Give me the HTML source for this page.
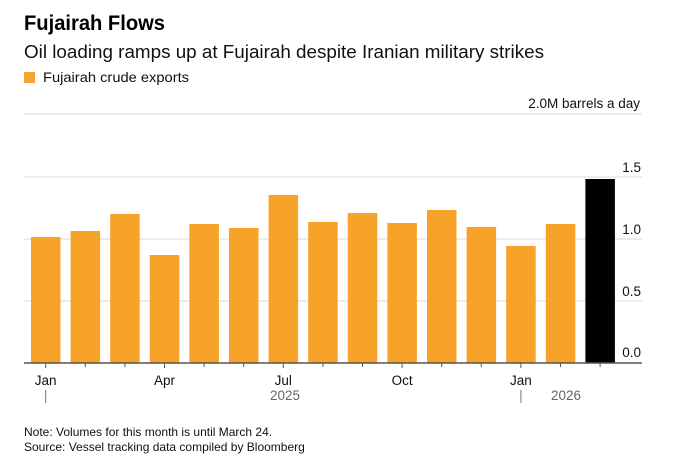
<!DOCTYPE html>
<html><head><meta charset="utf-8"><style>
html,body{margin:0;padding:0;background:#fff;}
svg{display:block;font-family:"Liberation Sans",Arial,sans-serif;}
</style></head><body>
<svg width="684" height="464" viewBox="0 0 684 464" xmlns="http://www.w3.org/2000/svg">
<rect width="684" height="464" fill="#fff"/>
<text x="24" y="30" font-size="21" font-weight="bold" fill="#000" textLength="141" lengthAdjust="spacingAndGlyphs">Fujairah Flows</text>
<text x="24" y="58" font-size="18" fill="#111" textLength="520" lengthAdjust="spacingAndGlyphs">Oil loading ramps up at Fujairah despite Iranian military strikes</text>
<rect x="24" y="72" width="11" height="11" rx="1" fill="#f7a229"/>
<text x="43" y="82" font-size="14" fill="#111" textLength="146" lengthAdjust="spacingAndGlyphs">Fujairah crude exports</text>
<text x="640" y="108" font-size="13.5" fill="#111" text-anchor="end">2.0M barrels a day</text>
<g stroke="#e6e6e6" stroke-width="1.5">
<line x1="24" y1="114" x2="642" y2="114"/>
<line x1="24" y1="177" x2="642" y2="177"/>
<line x1="24" y1="239" x2="642" y2="239"/>
<line x1="24" y1="301" x2="642" y2="301"/>
</g>
<g font-size="13.5" fill="#111" text-anchor="end">
<text x="641" y="172">1.5</text>
<text x="641" y="234">1.0</text>
<text x="641" y="296">0.5</text>
<text x="641" y="357">0.0</text>
</g>
<g fill="#f7a229">
<rect x="31" y="237" width="29.5" height="126"/>
<rect x="70.6" y="231" width="29.5" height="132"/>
<rect x="110.2" y="214" width="29.5" height="149"/>
<rect x="149.8" y="255" width="29.5" height="108"/>
<rect x="189.4" y="224" width="29.5" height="139"/>
<rect x="229" y="228" width="29.5" height="135"/>
<rect x="268.6" y="195" width="29.5" height="168"/>
<rect x="308.2" y="222" width="29.5" height="141"/>
<rect x="347.8" y="213" width="29.5" height="150"/>
<rect x="387.4" y="223" width="29.5" height="140"/>
<rect x="427" y="210" width="29.5" height="153"/>
<rect x="466.6" y="227" width="29.5" height="136"/>
<rect x="506.2" y="246" width="29.5" height="117"/>
<rect x="545.8" y="224" width="29.5" height="139"/>
</g>
<rect x="585.4" y="179" width="29.5" height="184" fill="#000"/>
<line x1="24" y1="363" x2="642" y2="363" stroke="#555" stroke-width="1.5"/>
<g stroke="#555" stroke-width="1">
<line x1="45.7" y1="363" x2="45.7" y2="368"/><line x1="85.3" y1="363" x2="85.3" y2="367"/><line x1="124.9" y1="363" x2="124.9" y2="367"/>
<line x1="164.5" y1="363" x2="164.5" y2="368"/><line x1="204.1" y1="363" x2="204.1" y2="367"/><line x1="243.7" y1="363" x2="243.7" y2="367"/>
<line x1="283.3" y1="363" x2="283.3" y2="368"/><line x1="322.9" y1="363" x2="322.9" y2="367"/><line x1="362.5" y1="363" x2="362.5" y2="367"/>
<line x1="402.1" y1="363" x2="402.1" y2="368"/><line x1="441.7" y1="363" x2="441.7" y2="367"/><line x1="481.3" y1="363" x2="481.3" y2="367"/>
<line x1="520.9" y1="363" x2="520.9" y2="368"/><line x1="560.5" y1="363" x2="560.5" y2="367"/><line x1="600.1" y1="363" x2="600.1" y2="367"/>
</g>
<g font-size="13.5" fill="#111" text-anchor="middle">
<text x="45.7" y="385">Jan</text><text x="164.5" y="385">Apr</text><text x="283.3" y="385">Jul</text><text x="402.1" y="385">Oct</text><text x="520.9" y="385">Jan</text>
</g>
<g font-size="13.5" fill="#666" text-anchor="middle">
<text x="285" y="400">2025</text><text x="566" y="400">2026</text>
</g>
<line x1="45.7" y1="390" x2="45.7" y2="403" stroke="#777" stroke-width="1"/>
<line x1="520.9" y1="390" x2="520.9" y2="403" stroke="#777" stroke-width="1"/>
<text x="24" y="436" font-size="12" fill="#111">Note: Volumes for this month is until March 24.</text>
<text x="24" y="451" font-size="12" fill="#111">Source: Vessel tracking data compiled by Bloomberg</text>
</svg>
</body></html>
